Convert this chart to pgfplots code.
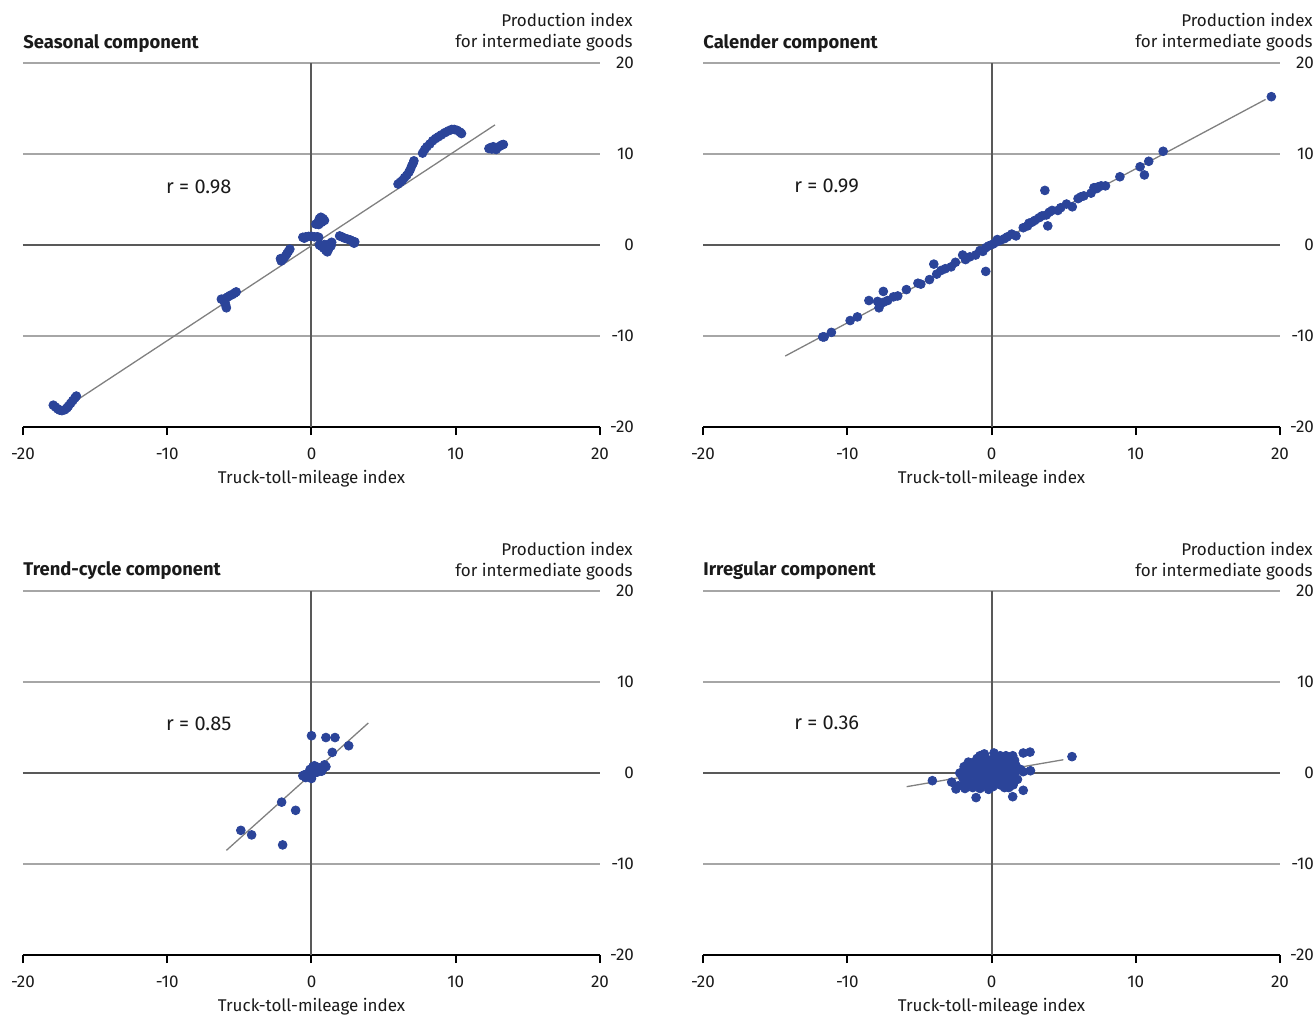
\documentclass[border=0pt]{standalone}
\usepackage{fontspec}
\setmainfont{Fira Sans}
\usepackage{pgfplots}
\pgfplotsset{compat=1.18}
\definecolor{dotblue}{HTML}{2B4499}
\definecolor{gridgray}{HTML}{A6A6A6}
\definecolor{zerogray}{HTML}{595959}
\definecolor{fitgray}{HTML}{808080}
\definecolor{textc}{HTML}{1A1A1A}
\pgfplotsset{panel/.style={
  scale only axis, width=288.5pt, height=182pt,
  xmin=-20,xmax=20,ymin=-20,ymax=20,
  axis x line=bottom, axis y line=right,
  x axis line style={-, black, line width=1pt},
  y axis line style={draw=none},
  xtick={-20,-10,0,10,20}, xticklabels={-20,-10,0,10,20},
  ytick={-20,-10,0,10,20}, yticklabels={-20,-10,0,10,20},
  tick align=outside, major tick length=4pt,
  xtick style={black, line width=1pt},
  ytick style={draw=none},
  ymajorgrids, grid style={gridgray, line width=0.75pt},
  every tick label/.append style={font=\fontsize{8.5}{10}\selectfont, text=textc},
  xticklabel style={anchor=base, yshift=-12pt},
  yticklabel style={anchor=east, xshift=16.5pt},
  xlabel={Truck-toll-mileage index},
  xlabel style={at={(axis description cs:0.5,0)}, anchor=base, yshift=-28pt, font=\fontsize{8.5}{10}\selectfont, text=textc},
  clip=false,
}}
\newcommand{\zerolines}{%
  \draw[zerogray, line width=1.2pt] (axis cs:-20,0) -- (axis cs:20,0);
  \draw[zerogray, line width=1pt] (axis cs:0,-20) -- (axis cs:0,20);}
\tikzset{dots/.style={only marks, mark=*, mark size=2.2pt, color=dotblue, mark options={draw=dotblue, fill=dotblue}},
  fit/.style={fitgray, line width=0.65pt, no marks},
  rlab/.style={anchor=west, inner sep=0pt, font=\fontsize{10}{12}\selectfont, text=textc}}
\begin{document}
\begin{tikzpicture}
\useasboundingbox (0,0) rectangle (658pt,-507pt);
\tikzset{lab/.style={inner sep=0pt, font=\fontsize{8.5}{10}\selectfont, text=textc},
  ttl/.style={inner sep=0pt, anchor=base west, font=\fontsize{9.2}{11}\selectfont\bfseries, text=textc}}
% titles
\node[ttl] at (11.5pt,-24pt) {Seasonal component};
\node[lab, anchor=base east] at (316.5pt,-13pt) {Production index};
\node[lab, anchor=base east] at (316.5pt,-23.5pt) {for intermediate goods};
\node[ttl] at (351.5pt,-24pt) {Calender component};
\node[lab, anchor=base east] at (656.5pt,-13pt) {Production index};
\node[lab, anchor=base east] at (656.5pt,-23.5pt) {for intermediate goods};
\node[ttl] at (11.5pt,-287.5pt) {Trend-cycle component};
\node[lab, anchor=base east] at (316.5pt,-277.5pt) {Production index};
\node[lab, anchor=base east] at (316.5pt,-288pt) {for intermediate goods};
\node[ttl] at (351.5pt,-287.5pt) {Irregular component};
\node[lab, anchor=base east] at (656.5pt,-277.5pt) {Production index};
\node[lab, anchor=base east] at (656.5pt,-288pt) {for intermediate goods};

% Seasonal
\begin{axis}[panel, at={(11.5pt,-213.5pt)}, anchor=south west]
\zerolines
\addplot[dots] coordinates {
(-17.9,-17.6) (-17.75,-17.8) (-17.6,-18.0) (-17.45,-18.15) (-17.3,-18.2) (-17.1,-18.1) (-16.95,-17.9) (-16.85,-17.7) (-16.7,-17.4) (-16.55,-17.1) (-16.4,-16.8) (-16.3,-16.6)
(-6.25,-5.95) (-6.1,-6.05) (-5.95,-5.85) (-5.8,-5.7) (-5.65,-5.55) (-5.5,-5.45) (-5.35,-5.3) (-5.22,-5.15) (-6.0,-6.3) (-5.95,-6.6) (-5.9,-6.9) (-6.05,-6.2)
(-2.1,-1.75) (-2.0,-1.6) (-1.9,-1.4) (-1.8,-1.2) (-1.7,-0.95) (-1.6,-0.7) (-1.5,-0.45) (-2.15,-1.5)
(-0.6,0.85) (-0.4,0.9) (-0.2,0.95) (0.0,0.95) (0.2,0.9) (0.4,0.9) (0.5,0.85) (-0.5,0.75)
(0.3,2.3) (0.45,2.5) (0.55,2.9) (0.65,3.05) (0.8,2.9) (0.9,2.7) (0.5,2.25) (0.7,2.5)
(0.55,0.0) (0.7,-0.15) (0.85,-0.35) (1.0,-0.6) (1.1,-0.75) (1.2,-0.4) (1.35,-0.1) (1.4,0.3) (1.2,0.1) (0.9,0.05)
(1.95,1.0) (2.1,0.9) (2.3,0.75) (2.5,0.65) (2.7,0.55) (2.85,0.4) (2.95,0.2) (3.0,0.35)
(6.0,6.7) (6.15,6.9) (6.3,7.1) (6.45,7.4) (6.6,7.65) (6.75,8.0) (6.85,8.3) (6.95,8.7) (7.05,9.0) (7.1,9.25)
(7.7,10.1) (7.85,10.5) (8.0,10.8) (8.2,11.1) (8.4,11.45) (8.6,11.7) (8.8,11.9) (9.0,12.1) (9.25,12.35) (9.5,12.55) (9.72,12.7) (9.9,12.7) (10.1,12.6) (10.3,12.4) (10.4,12.25)
(12.3,10.6) (12.5,10.55) (12.7,10.6) (12.9,10.7) (13.05,10.85) (13.2,11.0) (13.3,11.05) (12.6,10.8) (12.4,10.7) (12.8,10.5)
};
\addplot[fit] coordinates {(-17.66,-18.5) (12.72,13.2)};
\node[rlab] at (axis cs:-10.1,6.4) {r = 0.98};
\end{axis}

% Calendar
\begin{axis}[panel, at={(351.5pt,-213.5pt)}, anchor=south west]
\zerolines
\addplot[dots] coordinates {
(19.4,16.3) (11.9,10.3) (10.9,9.2) (10.3,8.6) (10.6,7.7) (8.9,7.5)
(7.9,6.5) (7.6,6.5) (7.4,6.4) (7.1,6.3) (6.9,5.7) (6.2,5.3) (6.0,5.1) (5.6,4.2) (4.8,4.1) (4.6,3.8)
(3.7,6.0) (4.0,3.6) (3.8,3.3) (3.5,3.2) (3.3,3.0) (3.0,2.7) (2.6,2.4) (2.5,2.1) (2.2,1.9) (3.9,2.1)
(1.7,1.0) (1.1,0.9) (0.9,0.7) (0.6,0.5) (0.3,0.3) (0.1,0.1) (-0.2,-0.1) (-0.4,-0.3) (-0.6,-0.7) (-0.4,-2.9)
(-1.1,-1.1) (-1.5,-1.3) (-2.0,-1.1) (-2.5,-1.9) (-2.8,-2.4) (-4.0,-2.1) (-3.5,-2.8) (-3.8,-3.2) (-4.3,-3.8)
(-4.9,-4.3) (-5.1,-4.2) (-5.9,-4.9) (-6.5,-5.6) (-6.8,-5.7) (-7.2,-6.1) (-7.5,-6.3) (-7.5,-5.1)
(-8.5,-6.1) (-7.9,-6.2) (-7.8,-6.9) (-9.3,-7.9) (-9.8,-8.3) (-11.1,-9.6) (-11.6,-10.1) (-11.7,-10.1)
(0.4,0.6) (1.4,1.2) (2.8,2.5) (5.2,4.5) (-3.2,-2.6) (-1.8,-1.6) (-0.8,-0.6) (4.2,3.8) (7.3,6.2) (6.4,5.4)
};
\addplot[fit] coordinates {(-14.3,-12.2) (19.0,16.0)};
\node[rlab] at (axis cs:-13.7,6.5) {r = 0.99};
\end{axis}

% Trend-cycle
\begin{axis}[panel, at={(11.5pt,-477.5pt)}, anchor=south west]
\zerolines
\addplot[dots] coordinates {
(0.0,4.1) (1.0,3.9) (1.63,3.9) (2.58,3.0) (1.44,2.27) (-2.07,-3.2) (-1.1,-4.1) (-4.9,-6.3) (-4.15,-6.8) (-2.0,-7.9)
(-0.6,-0.3) (-0.4,-0.5) (-0.2,-0.4) (0.0,-0.2) (0.2,0.0) (0.4,0.1) (0.6,0.3) (0.8,0.5) (1.0,0.7) (0.1,0.7)
(-0.1,0.4) (0.3,0.4) (0.5,0.6) (0.7,0.2) (-0.3,-0.1) (0.0,-0.6) (0.9,0.9) (0.2,0.8) (-0.5,-0.2)
};
\addplot[fit] coordinates {(-5.9,-8.5) (3.94,5.5)};
\node[rlab] at (axis cs:-10.1,5.4) {r = 0.85};
\end{axis}

% Irregular
\begin{axis}[panel, at={(351.5pt,-477.5pt)}, anchor=south west]
\zerolines
\addplot[dots] coordinates {
(5.58,1.8) (2.67,2.3) (2.2,2.2) (2.7,0.25) (2.2,0.15) (2.2,-1.9) (1.47,-2.6) (-1.07,-2.7) (-4.1,-0.84) (-2.76,-1.0)
(-2.46,-1.75) (-1.84,-1.7) (1.5,-1.2) (1.0,-1.4) (-0.5,2.1) (0.17,2.2) (1.47,1.9) (-1.84,0.5) (-1.2,1.2)
(-2.0,-0.5) (-1.8,0.2) (-1.6,-0.8) (-1.5,0.6) (-1.4,-0.2) (-1.3,1.0) (-1.2,-1.2) (-1.1,0.3) (-1.0,-0.6) (-0.9,1.3)
(-0.8,0.0) (-0.7,-1.0) (-0.6,0.7) (-0.5,-0.3) (-0.4,1.6) (-0.3,-1.4) (-0.2,0.4) (-0.1,-0.7) (0.0,1.0) (0.1,0.1)
(0.2,-1.1) (0.3,1.7) (0.4,-0.4) (0.5,0.6) (0.6,-1.3) (0.7,1.2) (0.8,-0.2) (0.9,0.5) (1.0,-0.8) (1.1,1.5)
(1.2,0.2) (1.3,-0.5) (1.4,1.0) (1.6,0.0) (1.7,0.8) (1.8,-0.7) (-1.9,-1.1) (-2.2,0.0) (-0.6,1.9) (0.1,-1.5)
(0.6,1.9) (-1.0,1.6) (1.5,-1.3) (-0.2,-1.8) (0.9,-1.6) (-1.6,1.2) (2.0,0.4) (-2.3,-1.4) (0.4,0.9) (-0.4,0.3)
(0.2,-0.3) (-1.3,-1.6) (1.0,1.9) (-0.8,-1.7) (0.0,0.5) (0.7,0.1) (-0.5,0.9) (1.2,-1.0)
(-1.7,-0.3) (-1.5,-1.3) (-1.1,-0.2) (-0.9,0.6) (-0.7,-0.5) (-0.3,0.8) (-0.1,1.4) (0.2,0.5) (0.3,-0.8) (0.5,1.3)
(0.6,-0.6) (0.8,0.9) (1.0,0.3) (1.3,0.6) (1.5,-0.3) (-1.2,0.6) (-0.6,-0.9) (-0.2,-1.2) (0.1,-0.5) (0.4,0.3)
(1.8,0.3) (1.6,1.4) (-1.9,0.7) (-0.8,1.9) (0.0,-1.0) (0.9,-0.4) (1.2,-1.6) (-1.0,-1.2) (-0.4,-0.1) (0.3,1.2)
};
\addplot[fit] coordinates {(-5.88,-1.5) (4.98,1.46)};
\node[rlab] at (axis cs:-13.7,5.5) {r = 0.36};
\end{axis}
\end{tikzpicture}
\end{document}
